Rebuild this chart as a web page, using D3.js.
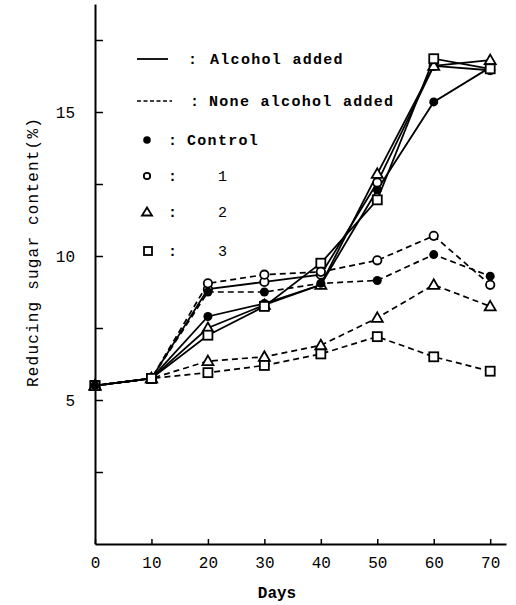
<!DOCTYPE html>
<html><head><meta charset="utf-8">
<script src="https://cdn.jsdelivr.net/npm/d3@7"></script>
<style>
body{margin:0;background:#fff;}
svg{display:block;font-family:"Liberation Mono","DejaVu Sans Mono",monospace;}
</style></head>
<body><svg id="c" width="516" height="605"></svg>
<script>
const days = [0, 10, 20, 30, 40, 50, 60, 70];
// Alcohol added (solid lines)
const alcControl = [5.5, 5.75, 7.9, 8.35, 9.0, 12.3, 15.35, 16.55];
const alc1 = [5.5, 5.75, 8.85, 9.1, 9.35, 12.55, 16.6, 16.45];
const alc2 = [5.5, 5.75, 7.5, 8.3, 9.0, 12.85, 16.6, 16.8];
const alc3 = [5.5, 5.75, 7.25, 8.25, 9.75, 11.95, 16.85, 16.5];
// None alcohol added (dashed lines)
const noneControl = [5.5, 5.75, 8.75, 8.75, 9.05, 9.15, 10.05, 9.3];
const none1 = [5.5, 5.75, 9.05, 9.35, 9.45, 9.85, 10.7, 9.0];
const none2 = [5.5, 5.75, 6.35, 6.5, 6.9, 7.85, 9.0, 8.25];
const none3 = [5.5, 5.75, 5.95, 6.2, 6.6, 7.2, 6.5, 6.0];
const xTicks = [0, 10, 20, 30, 40, 50, 60, 70];
const yTicks = [2.5, 5, 7.5, 10, 12.5, 15, 17.5];
const yLabelled = [5, 10, 15];
const legendLines = ["Alcohol added", "None alcohol added"];
const legendMarks = ["Control", "1", "2", "3"];

const series = [
  {v: alcControl, dash: false, m: "filled"},
  {v: alc1, dash: false, m: "open"},
  {v: alc2, dash: false, m: "tri"},
  {v: alc3, dash: false, m: "sq"},
  {v: noneControl, dash: true, m: "filled"},
  {v: none1, dash: true, m: "open"},
  {v: none2, dash: true, m: "tri"},
  {v: none3, dash: true, m: "sq"}
];

const svg = d3.select("#c");
const x = d3.scaleLinear().domain([0, 72.8]).range([95, 506]);
const y = d3.scaleLinear().domain([0, 18.75]).range([544, 4]);

// axes
const yAxis = d3.axisLeft(y).tickValues(yTicks).tickSizeInner(-8).tickSizeOuter(0).tickPadding(20)
  .tickFormat(d => yLabelled.includes(d) ? d3.format("d")(d) : "");
const gy = svg.append("g").attr("transform", "translate(95,0)").call(yAxis);
const xAxis = d3.axisBottom(x).tickValues(xTicks).tickSizeInner(-5).tickSizeOuter(0).tickPadding(13)
  .tickFormat(d3.format("d"));
const gx = svg.append("g").attr("transform", "translate(0,544)").call(xAxis);
[gx, gy].forEach(g => {
  g.selectAll("path.domain").attr("stroke", "#000").attr("stroke-width", 2);
  g.selectAll(".tick line").attr("stroke", "#000").attr("stroke-width", 1.5);
  g.selectAll("text").attr("font-family", "Liberation Mono").attr("font-size", 16).attr("fill", "#000");
});

svg.append("text").attr("x", 277).attr("y", 598).attr("text-anchor", "middle")
  .attr("font-size", 16).attr("font-weight", "bold").text("Days");
svg.append("text").attr("transform", "translate(38,252) rotate(-90)").attr("text-anchor", "middle")
  .attr("font-size", 16).attr("letter-spacing", 1.2).text("Reducing sugar content(%)");

// lines
const line = d3.line().x((d, i) => x(days[i])).y(d => y(d));
series.forEach(s => {
  svg.append("path").datum(s.v).attr("d", line).attr("fill", "none")
    .attr("stroke", "#000").attr("stroke-width", s.dash ? 1.7 : 1.8)
    .attr("stroke-dasharray", s.dash ? "6,4" : null);
});

function marker(g, type, cx, cy) {
  if (type === "filled") {
    g.append("circle").attr("cx", cx).attr("cy", cy).attr("r", 4.5).attr("fill", "#000");
  } else if (type === "open") {
    g.append("circle").attr("cx", cx).attr("cy", cy).attr("r", 4.2).attr("fill", "#fff")
      .attr("stroke", "#000").attr("stroke-width", 1.8);
  } else if (type === "tri") {
    g.append("path").attr("d", `M${cx},${cy - 5.5}L${cx + 5.5},${cy + 4}L${cx - 5.5},${cy + 4}Z`)
      .attr("fill", "#fff").attr("stroke", "#000").attr("stroke-width", 1.8);
  } else {
    g.append("rect").attr("x", cx - 4.5).attr("y", cy - 4.5).attr("width", 9).attr("height", 9)
      .attr("fill", "#fff").attr("stroke", "#000").attr("stroke-width", 1.8);
  }
}
const mg = svg.append("g");
series.forEach(s => {
  s.v.forEach((d, i) => marker(mg, s.m, x(days[i]), y(d)));
});
// start point drawn as filled
marker(mg, "filled", x(days[0]), y(alcControl[0]));

// legend
const lg = svg.append("g").attr("font-size", 15).attr("font-weight", "bold").attr("fill", "#000");
const lineRows = [59, 101];
legendLines.forEach((t, i) => {
  lg.append("line").attr("x1", 137).attr("x2", i === 0 ? 168 : 172).attr("y1", lineRows[i]).attr("y2", lineRows[i])
    .attr("stroke", "#000").attr("stroke-width", i === 0 ? 1.8 : 1.3)
    .attr("stroke-dasharray", i === 0 ? null : "4,2.5");
  lg.append("text").attr("x", i === 0 ? 188 : 190).attr("y", lineRows[i]).attr("dy", "0.35em").text(":");
  lg.append("text").attr("x", i === 0 ? 210 : 209).attr("y", lineRows[i]).attr("dy", "0.35em")
    .attr("letter-spacing", 1.3).text(t);
});
const markRows = [140, 176, 212, 251];
const markTypes = ["filled", "open", "tri", "sq"];
legendMarks.forEach((t, i) => {
  const cy = markRows[i];
  if (markTypes[i] === "filled") lg.append("circle").attr("cx", 147).attr("cy", cy).attr("r", 3.8).attr("fill", "#000");
  else if (markTypes[i] === "open") lg.append("circle").attr("cx", 147).attr("cy", cy).attr("r", 3.2).attr("fill", "#fff").attr("stroke", "#000").attr("stroke-width", 1.8);
  else if (markTypes[i] === "tri") lg.append("path").attr("d", `M147,${cy - 4.5}L152,${cy + 3.5}L142,${cy + 3.5}Z`).attr("fill", "#fff").attr("stroke", "#000").attr("stroke-width", 1.8);
  else lg.append("rect").attr("x", 144).attr("y", cy - 4).attr("width", 8).attr("height", 8).attr("fill", "#fff").attr("stroke", "#000").attr("stroke-width", 1.8);
  lg.append("text").attr("x", 168).attr("y", cy).attr("dy", "0.35em").text(":");
  lg.append("text").attr("x", i === 0 ? 187 : 218).attr("y", cy).attr("dy", "0.35em")
    .attr("font-weight", i === 0 ? "bold" : "normal").attr("letter-spacing", 1.3).text(t);
});
</script></body></html>
